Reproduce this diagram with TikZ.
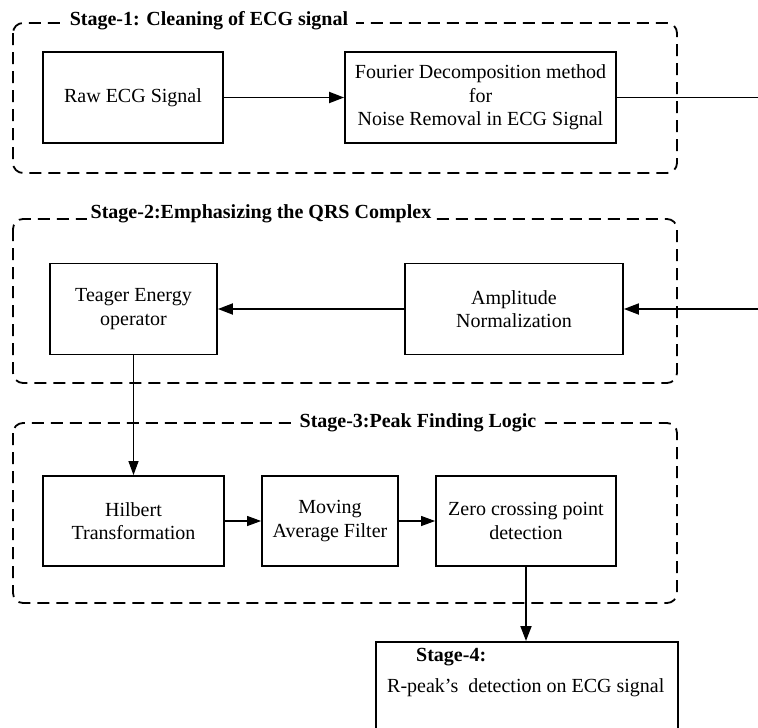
\documentclass[tikz,border=0pt]{standalone}
\usepackage{fontspec}
\setmainfont{Liberation Serif}
\usepackage{tikz}
\usetikzlibrary{arrows.meta,positioning}

\begin{document}
\begin{tikzpicture}[
    x=1pt,
    y=-1pt,
    >={Triangle[length=15pt,width=11pt]},
    stagebox/.style={
        line width=1.8pt,
        dash pattern=on 12pt off 7pt,
        rounded corners=10pt
    },
    stagetitle/.style={
        fill=white,
        inner xsep=8pt,
        inner ysep=1pt,
        font=\fontsize{20}{23.5}\selectfont\bfseries
    },
    block/.style={
        draw=black,
        line width=1.8pt,
        align=center,
        inner sep=2pt,
        font=\fontsize{20}{23.5}\selectfont
    },
    flow/.style={->,line width=1.8pt},
    thinflow/.style={
        -{Triangle[length=14pt,width=10pt]},
        line width=1.1pt
    }
]

\useasboundingbox (0,0) rectangle (758,728);

% ---------------------------------------------------------
% Stage frames
% ---------------------------------------------------------

\draw[stagebox] (13,23) rectangle (677,173);
\draw[stagebox] (13,219) rectangle (677,383);
\draw[stagebox] (13,423) rectangle (677,603);

\node[stagetitle] (titleone) at (209,21)
    {Stage-1: Cleaning of ECG signal};
\node[stagetitle,inner xsep=4pt] (titletwo) at (261,214)
    {Stage-2:Emphasizing the QRS Complex};
\node[stagetitle] (titlethree) at (418,423)
    {Stage-3:Peak Finding Logic};

% ---------------------------------------------------------
% Stage-1 blocks
% ---------------------------------------------------------

\node[block,minimum width=180pt,minimum height=91pt]
    (raw) at (133,97.5)
{Raw ECG Signal};

\node[block,minimum width=271pt,minimum height=91pt]
    (fourier) at (480.5,97.5)
{Fourier Decomposition method\\for\\Noise Removal in ECG Signal};

% ---------------------------------------------------------
% Stage-2 blocks
% ---------------------------------------------------------

\node[block,minimum width=167pt,minimum height=91pt]
    (teager) at (133.5,309)
{Teager Energy\\operator};

\node[block,minimum width=218pt,minimum height=91pt]
    (amp) at (514,309)
{Amplitude\\Normalization};

% ---------------------------------------------------------
% Stage-3 blocks
% ---------------------------------------------------------

\node[block,minimum width=181pt,minimum height=90pt]
    (hilbert) at (133.5,521)
{Hilbert\\Transformation};

\node[block,minimum width=136pt,minimum height=90pt]
    (moving) at (330,521)
{Moving\\Average Filter};

\node[block,minimum width=180pt,minimum height=90pt]
    (zero) at (526,521)
{Zero crossing point\\detection};

% ---------------------------------------------------------
% Stage-4 block (runs past the lower edge)
% ---------------------------------------------------------

\node[draw=black,line width=1.8pt,anchor=north west,
      minimum width=302pt,minimum height=130pt]
    (stagefour) at (375,641) {};

\node[anchor=west,font=\fontsize{20}{23.5}\selectfont\bfseries,inner sep=0pt]
    (fourtitle) at (416,657) {Stage-4:};

\node[anchor=west,font=\fontsize{20}{23.5}\selectfont,inner sep=0pt]
    (fourtext) at (387,688) {R-peak’s~ detection on ECG signal};

% ---------------------------------------------------------
% Connectors
% ---------------------------------------------------------

\draw[flow] (raw) -- (fourier);

% loop back over the right edge
\draw[flow]
    (fourier.east) -- (800,97.5) |- (amp.east);

\draw[flow] (amp) -- (teager);

\draw[thinflow] (teager.south) -- (hilbert.north);

\draw[thinflow] (hilbert) -- (moving);
\draw[thinflow] (moving) -- (zero);

\draw[flow] (zero.south) -- (zero.south |- stagefour.north);

\end{tikzpicture}
\end{document}
